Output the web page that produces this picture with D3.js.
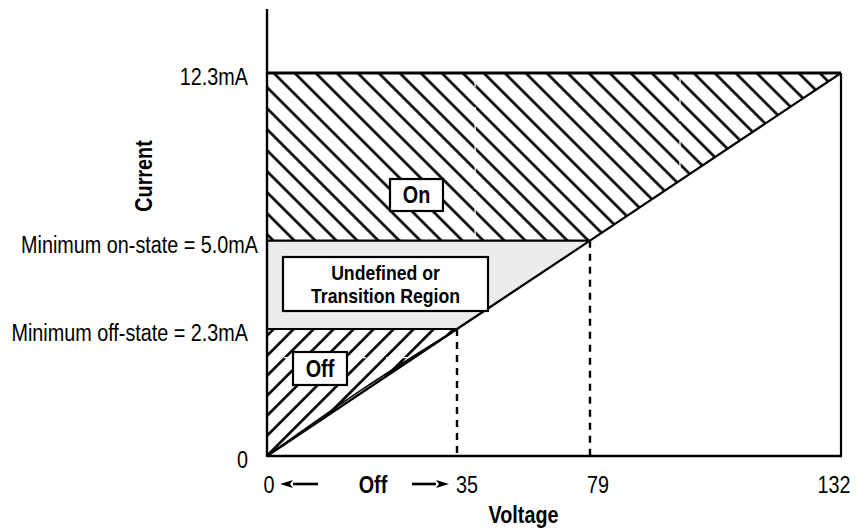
<!DOCTYPE html>
<html>
<head>
<meta charset="utf-8">
<script src="https://cdn.jsdelivr.net/npm/d3@7"></script>
<style>
  body { margin: 0; background: #fff; }
  text { font-family: "Liberation Sans Narrow", "Arial Narrow", "Liberation Sans", Arial, sans-serif; fill: #000; }
</style>
</head>
<body>
<div id="chart"></div>
<script>
// values
const voltTicks = [0, 35, 79, 132];
const voltLabels = ["0", "35", "79", "132"];
const currentLevels = [0, 2.3, 5.0, 12.3];
const currentLabels = ["0", "Minimum off-state = 2.3mA", "Minimum on-state = 5.0mA", "12.3mA"];

// load line, voltage -> current
const loadVolts = [0, 35, 79, 132];
const loadCurrent = [0, 2.3, 5.0, 12.3];

// edge of the off hatching (slightly bowed above the load line)
const offEdgeVolts = [0, 17, 28, 35];
const offEdgeCurrent = [0, 1.17, 1.87, 2.3];

// faint white grid that shows through the hatching
const ghostVolts = [41, 98];
const ghostCurrent = [1.78];

const width = 858, height = 531;
const squeeze = 0.86; // the original uses a condensed face

// schematic axes: piecewise scales, the breakpoints are not evenly spaced
const x = d3.scaleLinear().domain(voltTicks).range([267, 457, 590, 841]);
const y = d3.scaleLinear().domain(currentLevels).range([456, 329, 240.7, 73]);

const svg = d3.select("#chart").append("svg")
    .attr("width", width)
    .attr("height", height);

const defs = svg.append("defs");

// hatch patterns
function hatch(id, angle, w, shift) {
    const p = defs.append("pattern")
        .attr("id", id)
        .attr("patternUnits", "userSpaceOnUse")
        .attr("width", w)
        .attr("height", 10)
        .attr("patternTransform", `translate(${shift},0) rotate(${angle})`);
    p.append("line")
        .attr("x1", w / 2).attr("x2", w / 2)
        .attr("y1", -1).attr("y2", 11)
        .attr("stroke", "#000")
        .attr("stroke-width", 2.6);
}
hatch("hatchOn", -45, 21 / Math.SQRT2, 1.2);
hatch("hatchOff", 45, 20 / Math.SQRT2, 12.7);

const load = loadVolts.map((v, i) => [v, loadCurrent[i]]);
const offEdge = offEdgeVolts.map((v, i) => [v, offEdgeCurrent[i]]);
const loadAt = d3.scaleLinear().domain(loadVolts).range(loadCurrent);

const line = d3.line().x(d => x(d[0])).y(d => y(d[1]));
const curve = d3.line().x(d => x(d[0])).y(d => y(d[1])).curve(d3.curveMonotoneX);

// regions
const onPoly = [[0, 5.0], [0, 12.3], [132, 12.3], [79, 5.0]];
const transPoly = [[0, 2.3], [0, 5.0], [79, 5.0], [35, 2.3]];

svg.append("path")
    .attr("d", line(transPoly) + "Z")
    .attr("fill", "#ececec");

const onPath = line(onPoly) + "Z";
const offPath = "M" + x(0) + "," + y(0) + "L" + x(0) + "," + y(2.3) + "L" + x(35) + "," + y(2.3)
    + curve(offEdge.slice().reverse()).replace(/^M[^CL]*/, "L") + "Z";

defs.append("clipPath").attr("id", "clipOn").append("path").attr("d", onPath);
defs.append("clipPath").attr("id", "clipOff").append("path").attr("d", offPath);

svg.append("path").attr("d", onPath).attr("fill", "url(#hatchOn)");
svg.append("path").attr("d", offPath).attr("fill", "url(#hatchOff)");

// white grid remnants
const ghost = svg.append("g")
    .attr("stroke", "#fff")
    .attr("stroke-width", 1.3)
    .attr("stroke-dasharray", "14,3");
ghost.append("g").attr("clip-path", "url(#clipOn)")
    .selectAll("line").data(ghostVolts).join("line")
    .attr("x1", d => x(d)).attr("x2", d => x(d))
    .attr("y1", y(12.3)).attr("y2", y(5.0));
ghost.append("g").attr("clip-path", "url(#clipOff)")
    .selectAll("line").data(ghostCurrent).join("line")
    .attr("x1", x(0)).attr("x2", x(35))
    .attr("y1", d => y(d)).attr("y2", d => y(d));

// dashed drops from the switching points
svg.selectAll(".drop")
    .data([35, 79])
    .join("line")
    .attr("class", "drop")
    .attr("x1", d => x(d)).attr("x2", d => x(d))
    .attr("y1", d => y(loadAt(d))).attr("y2", y(0))
    .attr("stroke", "#000")
    .attr("stroke-width", 2.4)
    .attr("stroke-dasharray", "7,6");

// state thresholds
svg.selectAll(".level")
    .data([2.3, 5.0])
    .join("line")
    .attr("class", "level")
    .attr("x1", x(0))
    .attr("x2", d => x(loadAt.invert(d)))
    .attr("y1", d => y(d)).attr("y2", d => y(d))
    .attr("stroke", "#000")
    .attr("stroke-width", 2.2);

// load line and its bowed twin
svg.append("path")
    .attr("d", line(load))
    .attr("fill", "none")
    .attr("stroke", "#000")
    .attr("stroke-width", 2.2);
svg.append("path")
    .attr("d", curve(offEdge))
    .attr("fill", "none")
    .attr("stroke", "#000")
    .attr("stroke-width", 1.6);

// frame: top and right
svg.append("line")
    .attr("x1", x(0)).attr("x2", x(132))
    .attr("y1", y(12.3)).attr("y2", y(12.3))
    .attr("stroke", "#000").attr("stroke-width", 2.8);
svg.append("line")
    .attr("x1", x(132)).attr("x2", x(132))
    .attr("y1", y(12.3)).attr("y2", y(0))
    .attr("stroke", "#000").attr("stroke-width", 2.2);

// axes
svg.append("line")
    .attr("x1", x(0)).attr("x2", x(0))
    .attr("y1", 9).attr("y2", y(0) + 1)
    .attr("stroke", "#000").attr("stroke-width", 2.4);
svg.append("line")
    .attr("x1", x(0)).attr("x2", x(132) + 1)
    .attr("y1", y(0)).attr("y2", y(0))
    .attr("stroke", "#000").attr("stroke-width", 2.4);

// y labels
svg.selectAll(".ylab")
    .data(currentLevels)
    .join("text")
    .attr("class", "ylab")
    .attr("x", d => d === 5.0 ? 258 : 248)
    .attr("y", d => y(d) + 12)
    .attr("text-anchor", "end")
    .attr("font-size", 23)
    .text((d, i) => currentLabels[i]);

// x labels
const xShift = [2, 10, 8, -7];
svg.selectAll(".xlab")
    .data(voltTicks)
    .join("text")
    .attr("class", "xlab")
    .attr("x", (d, i) => x(d) + xShift[i])
    .attr("y", 493)
    .attr("text-anchor", "middle")
    .attr("font-size", 23)
    .text((d, i) => voltLabels[i]);

svg.append("text")
    .attr("x", 373).attr("y", 493)
    .attr("text-anchor", "middle")
    .attr("font-size", 23)
    .attr("font-weight", "bold")
    .text("Off");

// arrows either side of "Off"
function arrow(from, to, yy) {
    const dir = Math.sign(to - from);
    const base = to - dir * 13;
    svg.append("line")
        .attr("x1", from).attr("x2", base)
        .attr("y1", yy).attr("y2", yy)
        .attr("stroke", "#000").attr("stroke-width", 2.6);
    svg.append("path")
        .attr("d", `M${to},${yy}L${base},${yy - 4}L${base + dir * 3},${yy}L${base},${yy + 4}Z`)
        .attr("fill", "#000");
}
arrow(318, 280, 484);
arrow(412, 449, 484);

svg.append("text")
    .attr("x", (x(35) + x(79)) / 2)
    .attr("y", 523)
    .attr("text-anchor", "middle")
    .attr("font-size", 23)
    .attr("font-weight", "bold")
    .text("Voltage");

svg.append("text")
    .attr("transform", "translate(152,176) rotate(-90)")
    .attr("text-anchor", "middle")
    .attr("font-size", 23)
    .attr("font-weight", "bold")
    .text("Current");

// state boxes
const boxes = [
    { lines: ["On"], x0: 390, y0: 179, x1: 443, y1: 211, size: 23 },
    { lines: ["Undefined or", "Transition Region"], x0: 283, y0: 257, x1: 488, y1: 311, size: 20.5 },
    { lines: ["Off"], x0: 293, y0: 352, x1: 347, y1: 385, size: 23 }
];
const bx = svg.selectAll(".box").data(boxes).join("g").attr("class", "box");
bx.append("rect")
    .attr("x", d => d.x0).attr("y", d => d.y0)
    .attr("width", d => d.x1 - d.x0).attr("height", d => d.y1 - d.y0)
    .attr("fill", "#fff")
    .attr("stroke", "#000")
    .attr("stroke-width", 2.2);
bx.each(function (d) {
    const g = d3.select(this);
    const cx = (d.x0 + d.x1) / 2, cy = (d.y0 + d.y1) / 2;
    const lh = d.size * 1.12;
    d.lines.forEach((t, i) => {
        g.append("text")
            .attr("x", cx)
            .attr("y", cy + (i - (d.lines.length - 1) / 2) * lh + d.size * 0.36)
            .attr("text-anchor", "middle")
            .attr("font-size", d.size)
            .attr("font-weight", "bold")
            .text(t);
    });
});

// condense every label, as the original face is a narrow one
svg.selectAll("text").each(function () {
    const w = this.getComputedTextLength();
    d3.select(this)
        .attr("textLength", w * squeeze)
        .attr("lengthAdjust", "spacingAndGlyphs");
});
</script>
</body>
</html>
